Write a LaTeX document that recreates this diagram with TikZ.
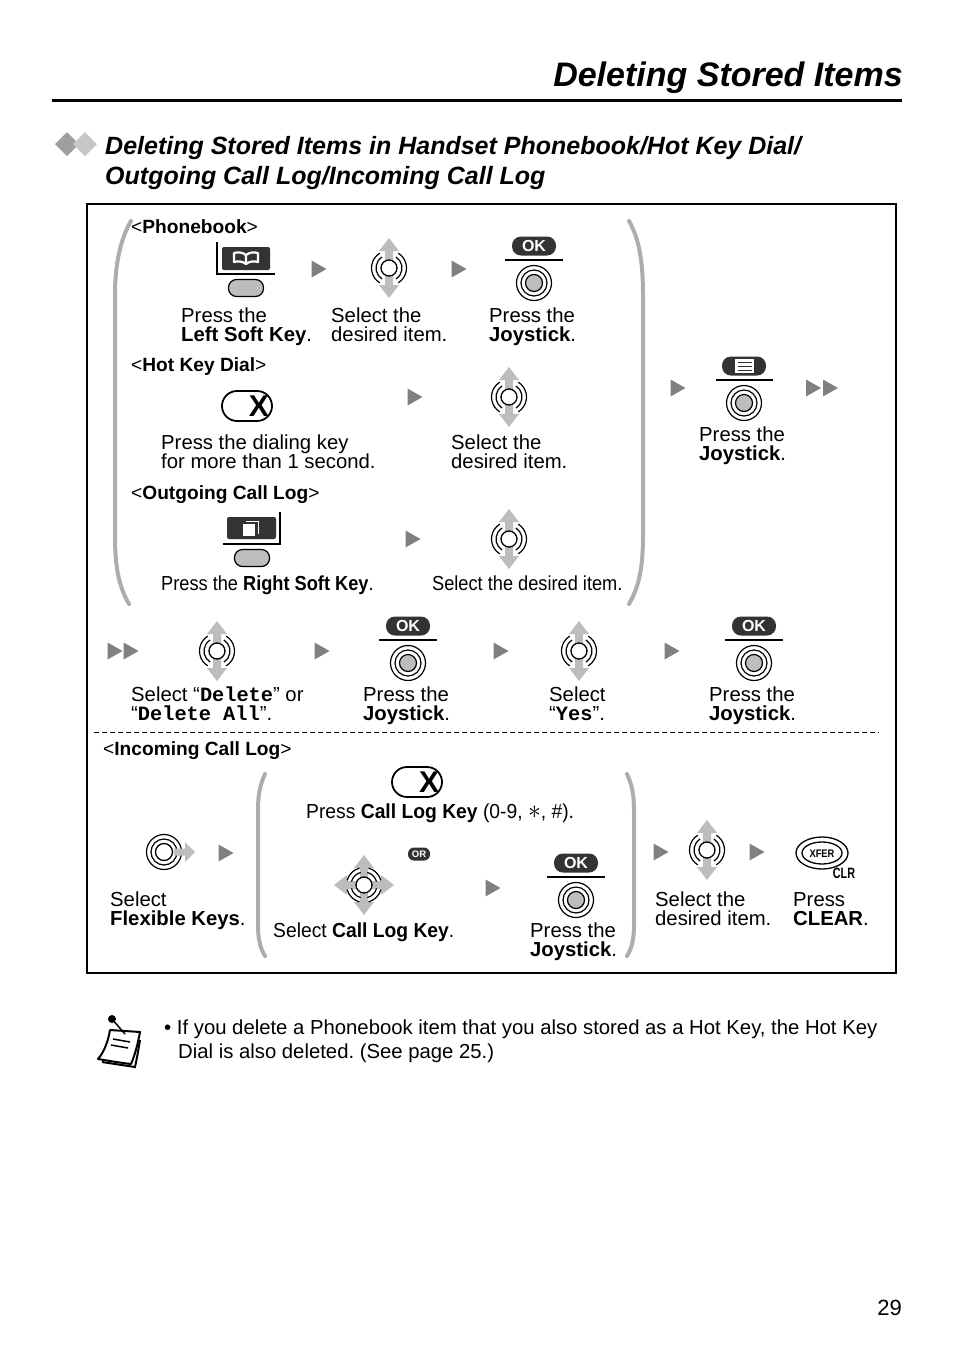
\documentclass[tikz,border=0pt]{standalone}
\usepackage{fontspec}
\setmainfont{Liberation Sans}
\setmonofont{Liberation Mono}
\definecolor{keydark}{gray}{0.2}
\definecolor{arrowgray}{gray}{0.5}
\definecolor{stickgray}{gray}{0.74}
\definecolor{bracegray}{gray}{0.68}
\newcommand{\lt}[1]{\textless\textbf{#1}\textgreater}
\newcommand{\mn}[1]{\texttt{\textbf{#1}}}
\tikzset{
	txt/.style={anchor=base west, inner sep=0pt, align=left, font=\fontsize{20.3}{19}\selectfont\frenchspacing},
	tag/.style={txt, font=\fontsize{19.15}{19}\selectfont},
	narrow/.style={txt, xscale=#1, transform shape},
	brace/.style={bracegray, line width=4pt, line cap=round},
	pics/tri/.style={code={\fill[arrowgray] (-7.5,-8.5) -- (7.5,0) -- (-7.5,8.5) -- cycle;}},
	pics/stickarrow/.style={code={\fill[stickgray] (-4,-8) -- (-4,-17) -- (-10,-17) -- (0,-30) -- (10,-17) -- (4,-17) -- (4,-8) -- cycle;}},
	pics/stickrings/.style 2 args={code={
		\foreach \rr in {13,17.5} {
			\foreach \aa in {#1} {
				\draw[line width=1.2pt] (\aa-#2:\rr) arc[start angle=\aa-#2, end angle=\aa+#2, radius=\rr];
			}
		}
		\draw[line width=1.3pt, fill=white] (0,0) circle (8);
	}},
	pics/stickud/.style={code={
		\pic {stickarrow};
		\pic[rotate=180] {stickarrow};
		\pic {stickrings={0,180}{58}};
	}},
	pics/stickall/.style={code={
		\foreach \aa in {0,90,180,270} {\pic[rotate=\aa] {stickarrow};}
		\pic {stickrings={45,135,225,315}{30}};
	}},
	pics/stickright/.style={code={
		\foreach \rr in {13,17.5} {\draw[line width=1.2pt] (0,0) circle (\rr);}
		\draw[line width=1.3pt] (0,0) circle (8.5);
		\fill[stickgray] (10,-3.5) -- (21,-3.5) -- (21,-10) -- (31,0) -- (21,10) -- (21,3.5) -- (10,3.5) -- cycle;
	}},
	pics/stickpress/.style={code={
		\draw[line width=1.2pt] (0,0) circle (17.5);
		\draw[line width=1.2pt] (0,0) circle (13);
		\draw[line width=1.2pt, fill=stickgray] (0,0) circle (8.5);
	}},
	pics/softoval/.style={code={\draw[line width=1.2pt, fill=stickgray, rounded corners=8pt] (-17.5,-8.5) rectangle (17.5,8.5);}},
	pics/dialkey/.style={code={
		\draw[line width=1.8pt, rounded corners=15pt] (-25,-15) rectangle (25,15);
		\node[inner sep=0pt, font=\fontsize{30}{30}\selectfont\bfseries] (-x) at (12,0) {X};
	}},
}
\begin{document}
\begin{tikzpicture}[x=1pt, y=-1pt]
	\path[use as bounding box] (0,0) rectangle (954,1352);

	% header
	\node[txt, anchor=base east, font=\fontsize{34}{34}\selectfont\bfseries\itshape] (pagetitle) at (903,86) {Deleting Stored Items};
	\draw[line width=3pt] (52,100) -- (902,100);
	\fill[gray!75] (55,144) -- (67,132) -- (79,144) -- (67,156) -- cycle;
	\fill[gray!45] (73,144) -- (85,132) -- (97,144) -- (85,156) -- cycle;
	\node[txt, font=\fontsize{25}{30}\selectfont\bfseries\itshape] (subtitle) at (105,184) {Deleting Stored Items in Handset Phonebook/Hot Key Dial/\\Outgoing Call Log/Incoming Call Log};

	% frame
	\draw[line width=2pt] (87,204) rectangle (896,973);
	\draw[dashed, line width=0.8pt, dash pattern=on 5pt off 3pt] (94,732) -- (879,732);

	% brackets
	\draw[brace] (131,221) .. controls (120,240) and (115,265) .. (115,295) -- (115,535) .. controls (115,565) and (118,585) .. (129,604);
	\draw[brace] (629,221) .. controls (640,240) and (643,265) .. (643,295) -- (643,535) .. controls (643,565) and (640,585) .. (629,604);
	\draw[brace] (265,774) .. controls (260,785) and (258,795) .. (258,810) -- (258,925) .. controls (258,938) and (260,948) .. (265,956);
	\draw[brace] (627,774) .. controls (632,785) and (634,795) .. (634,810) -- (634,925) .. controls (634,938) and (632,948) .. (627,956);

	% small arrows
	\foreach \px/\py in {319/269, 459/269, 415/397, 413/539, 678/388, 813.5/388, 830.5/388, 115/651, 131/651, 322/651, 501/651, 672/651, 226/853, 493/888, 661/852, 757/852}
		\pic at (\px,\py) {tri};

	% joystick
	\foreach \px/\py in {389/268, 509/397, 509/539, 217/651, 579/651, 707/850}
		\pic at (\px,\py) {stickud};
	\pic at (364,885) {stickall};
	\pic at (164,852) {stickright};

	% press the joystick
	\foreach \px/\py [count=\ii] in {534/246, 408/626, 754/626, 576/863} {
		\fill[keydark, rounded corners=9pt] (\px-22,\py-9.5) rectangle (\px+22,\py+9.5);
		\node[inner sep=0pt, text=white, font=\fontsize{16}{16}\selectfont\bfseries] (ok\ii) at (\px,\py) {OK};
		\draw[line width=2pt] (\px-29,\py+14) -- (\px+29,\py+14);
		\pic at (\px,\py+37) {stickpress};
	}

	% menu key
	\fill[keydark, rounded corners=9pt] (722,356.5) rectangle (766,375.5);
	\fill[white] (735,359) rectangle (754,373);
	\foreach \py in {362,366,370}
		\draw[line width=0.9pt, keydark] (737.5,\py) -- (751.5,\py);
	\draw[line width=2pt] (716,380) -- (773,380);
	\pic at (744,403) {stickpress};

	% left soft key
	\draw[line width=1.5pt] (217,242) -- (217,274) -- (275,274);
	\fill[keydark, rounded corners=2pt] (222,247) rectangle (270,270);
	\draw[white, line width=2.2pt, line join=round] (246,263) -- (246,255) .. controls (242,252) and (238,252) .. (234,253) -- (234,262) .. controls (238,261) and (242,261) .. (246,264) .. controls (250,261) and (254,261) .. (258,262) -- (258,253) .. controls (254,252) and (250,252) .. (246,255);
	\pic at (246,288) {softoval};

	% right soft key
	\draw[line width=1.5pt] (280,512) -- (280,544) -- (223,544);
	\fill[keydark, rounded corners=2pt] (227,517) rectangle (276,539);
	\draw[white, line width=1pt] (246,521.5) -- (258.5,521.5) -- (258.5,534);
	\fill[white] (243,524) rectangle (255,536);
	\pic at (252,558) {softoval};

	% dial keys
	\pic at (247,406) {dialkey};
	\pic at (417,782) {dialkey};

	% or
	\fill[keydark, rounded corners=6pt] (408,847.5) rectangle (430,860.5);
	\node[inner sep=0pt, text=white, font=\fontsize{9.5}{10}\selectfont\bfseries] (orlabel) at (419,854) {OR};

	% clear key
	\draw[line width=1.3pt] (822,853) ellipse (26 and 16);
	\draw[line width=1.3pt] (822,853) ellipse (20 and 11);
	\node[inner sep=0pt, font=\fontsize{11}{11}\selectfont\bfseries, xscale=0.85] (xferlabel) at (822,854) {XFER};
	\node[inner sep=0pt, font=\fontsize{15}{15}\selectfont\bfseries, xscale=0.72] (clrlabel) at (844,873) {CLR};

	% note icon
	\fill (112,1019) circle (4);
	\draw[line width=2pt] (102,1062) -- (135,1067) .. controls (137,1058) and (138,1052) .. (140,1040);
	\draw[line width=2pt, line join=round, fill=white] (110,1030) .. controls (108,1042) and (104,1052) .. (98,1059) .. controls (110,1061) and (122,1063) .. (131,1064) .. controls (135,1055) and (138,1043) .. (140,1032) -- cycle;
	\draw[line width=1.5pt] (113,1039) -- (130,1042);
	\draw[line width=1.5pt] (111,1045) -- (128,1048);
	\draw[line width=1.5pt] (112,1019) -- (125,1034);

	% labels
	\node[tag] (tagphone) at (131,233) {\lt{Phonebook}};
	\node[tag] (taghot) at (131,371) {\lt{Hot Key Dial}};
	\node[tag] (tagout) at (131,499) {\lt{Outgoing Call Log}};
	\node[tag] (tagin) at (103,755) {\lt{Incoming Call Log}};

	\node[txt] (pleft) at (181,341) {Press the\\\textbf{Left Soft Key}.};
	\node[txt] (psel) at (331,341) {Select the\\desired item.};
	\node[txt] (pjoy) at (489,341) {Press the\\\textbf{Joystick}.};
	\node[txt] (hdial) at (161,468) {Press the dialing key\\for more than 1 second.};
	\node[txt] (hsel) at (451,468) {Select the\\desired item.};
	\node[txt] (mjoy) at (699,460) {Press the\\\textbf{Joystick}.};
	\node[narrow=0.897] (orsoft) at (161,590) {Press the \textbf{Right Soft Key}.};
	\node[narrow=0.897] (osel) at (432,590) {Select the desired item.};

	\node[txt] (sdel) at (131,720) {Select “\mn{Delete}” or\\“\mn{Delete All}”.};
	\node[txt] (sjoy) at (363,720) {Press the\\\textbf{Joystick}.};
	\node[txt] (syes) at (549,720) {Select\\“\mn{Yes}”.};
	\node[txt] (ejoy) at (709,720) {Press the\\\textbf{Joystick}.};

	\node[narrow=0.95] (ikey) at (306,818) {Press \textbf{Call Log Key} (0-9, \scalebox{1.3}{$\ast$}, \#).};
	\node[txt] (iflex) at (110,925) {Select\\\textbf{Flexible Keys}.};
	\node[narrow=0.95] (isel) at (273,937) {Select \textbf{Call Log Key}.};
	\node[txt] (ijoy) at (530,956) {Press the\\\textbf{Joystick}.};
	\node[txt] (idesired) at (655,925) {Select the\\desired item.};
	\node[txt] (iclear) at (793,925) {Press\\\textbf{CLEAR}.};

	\node[txt] (note) at (164,1034) {• If you delete a Phonebook item that you also stored as a Hot Key, the Hot Key};
	\node[txt] (notetwo) at (178,1058) {Dial is also deleted. (See page 25.)};
	\node[txt, anchor=base east, font=\fontsize{22}{22}\selectfont] (pagenum) at (902,1315) {29};
\end{tikzpicture}
\end{document}
